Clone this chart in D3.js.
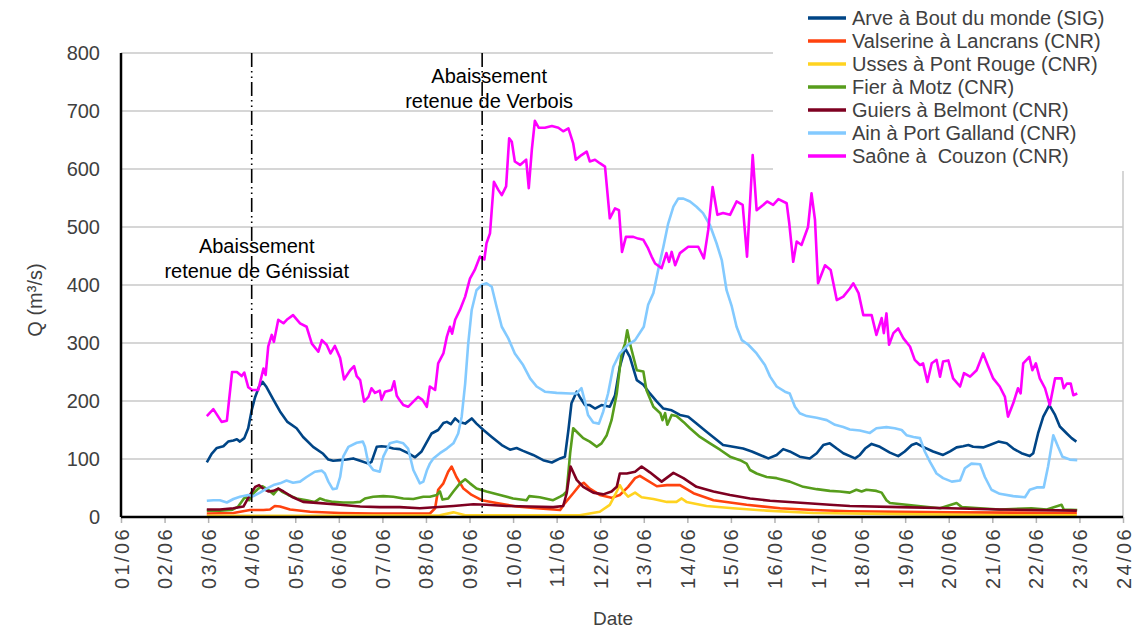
<!DOCTYPE html>
<html><head><meta charset="utf-8">
<script src="https://cdn.jsdelivr.net/npm/d3@7"></script>
<style>body{margin:0;background:#fff;}svg{display:block;font-family:"Liberation Sans",Arial,sans-serif;}</style>
</head><body><svg id="c" width="1138" height="632"></svg>
<script>
// time: days since 01/06 00:00 ; value: m3/s
const dateLabels = ["01/06","02/06","03/06","04/06","05/06","06/06","07/06","08/06","09/06","10/06","11/06","12/06","13/06","14/06","15/06","16/06","17/06","18/06","19/06","20/06","21/06","22/06","23/06","24/06"];
const yTicks = [0,100,200,300,400,500,600,700,800];
const seriesNames = ["Arve à Bout du monde (SIG)","Valserine à Lancrans (CNR)","Usses à Pont Rouge (CNR)","Fier à Motz (CNR)","Guiers à Belmont (CNR)","Ain à Port Galland (CNR)","Saône à  Couzon (CNR)"];
const seriesColors = ["#004586","#ff420e","#ffd320","#579d1c","#7e0021","#83caff","#ff00ff"];
const events = [{t:3.0, lines:["Abaissement","retenue de Génissiat"], ty:253},{t:8.29, lines:["Abaissement","retenue de Verbois"], ty:83}];

const arve = [[1.97,94],[2.08,109],[2.20,119],[2.35,122],[2.46,130],[2.58,132],[2.66,134],[2.73,130],[2.83,136],[2.92,153],[3.00,184],[3.08,207],[3.17,225],[3.25,233],[3.34,224],[3.50,202],[3.65,182],[3.82,164],[4.03,153],[4.18,138],[4.41,121],[4.64,109],[4.76,99],[4.87,97],[5.03,98],[5.18,99],[5.33,101],[5.49,97],[5.68,92],[5.75,95],[5.87,121],[5.98,122],[6.10,121],[6.25,118],[6.40,117],[6.59,110],[6.75,103],[6.90,113],[6.98,124],[7.13,144],[7.28,150],[7.40,162],[7.48,164],[7.57,160],[7.67,170],[7.76,164],[7.90,161],[8.05,170],[8.16,161],[8.32,150],[8.51,138],[8.74,124],[8.93,116],[9.08,119],[9.23,114],[9.46,107],[9.69,98],[9.89,94],[10.08,101],[10.19,104],[10.27,150],[10.34,196],[10.46,216],[10.53,207],[10.65,193],[10.76,193],[10.88,187],[11.03,193],[11.22,190],[11.34,210],[11.45,259],[11.57,291],[11.68,276],[11.84,236],[11.99,228],[12.14,213],[12.30,199],[12.45,187],[12.64,184],[12.83,176],[13.02,173],[13.21,161],[13.44,147],[13.67,133],[13.82,124],[14.05,121],[14.28,118],[14.48,113],[14.67,107],[14.86,101],[15.05,107],[15.20,117],[15.35,113],[15.58,104],[15.81,101],[15.97,110],[16.12,124],[16.27,127],[16.43,118],[16.58,110],[16.85,101],[16.96,107],[17.08,118],[17.23,126],[17.42,121],[17.65,111],[17.84,105],[17.99,113],[18.15,124],[18.26,127],[18.41,121],[18.64,113],[18.87,107],[19.03,113],[19.18,120],[19.33,122],[19.45,124],[19.56,121],[19.79,120],[19.94,124],[20.14,130],[20.33,127],[20.48,118],[20.67,110],[20.86,105],[20.94,110],[21.05,144],[21.17,173],[21.31,193],[21.44,176],[21.55,156],[21.71,144],[21.82,136],[21.93,130]];
const valserine = [[1.97,6],[2.58,7],[2.96,12],[3.27,12],[3.42,13],[3.53,19],[3.65,18],[3.88,13],[4.34,9],[5.03,7],[5.79,6],[7.09,6],[7.21,15],[7.28,47],[7.40,58],[7.51,78],[7.59,87],[7.70,69],[7.86,49],[8.05,38],[8.28,29],[8.62,24],[9.08,18],[9.54,15],[10.08,12],[10.19,24],[10.38,41],[10.53,55],[10.62,59],[10.76,49],[10.99,38],[11.26,33],[11.45,38],[11.64,52],[11.80,67],[11.91,71],[12.06,64],[12.30,53],[12.53,55],[12.83,55],[13.14,41],[13.60,29],[14.36,21],[15.13,15],[15.89,12],[16.73,10],[19.03,8],[21.94,7]];
const usses = [[1.97,2],[4.11,2],[7.32,3],[7.63,8],[7.90,3],[10.53,3],[10.99,9],[11.22,21],[11.34,38],[11.45,55],[11.53,44],[11.64,35],[11.80,42],[11.95,34],[12.22,31],[12.53,26],[12.75,26],[12.87,32],[12.98,26],[13.44,19],[14.05,15],[14.82,11],[15.89,7],[17.88,5],[20.17,3],[21.94,3]];
const fier = [[1.97,11],[2.27,11],[2.54,12],[2.69,18],[2.85,35],[2.94,29],[3.04,41],[3.15,49],[3.25,53],[3.38,47],[3.50,39],[3.61,49],[3.69,44],[3.84,38],[4.03,32],[4.26,29],[4.45,26],[4.57,32],[4.68,29],[4.87,26],[5.10,25],[5.33,25],[5.49,26],[5.60,32],[5.79,35],[6.02,36],[6.25,35],[6.48,32],[6.71,31],[6.94,35],[7.09,35],[7.25,38],[7.32,44],[7.38,30],[7.51,32],[7.63,44],[7.78,58],[7.90,65],[8.01,58],[8.16,49],[8.39,44],[8.70,38],[9.00,32],[9.31,29],[9.37,36],[9.61,34],[9.92,29],[10.08,35],[10.15,38],[10.23,44],[10.31,110],[10.38,153],[10.50,144],[10.61,136],[10.76,130],[10.92,121],[11.03,127],[11.15,141],[11.26,167],[11.38,213],[11.49,282],[11.57,299],[11.62,322],[11.68,300],[11.84,253],[11.99,251],[12.06,219],[12.22,190],[12.38,179],[12.43,167],[12.49,179],[12.54,159],[12.64,176],[12.75,174],[12.91,164],[13.06,153],[13.29,138],[13.52,127],[13.75,116],[13.98,104],[14.21,98],[14.36,92],[14.44,81],[14.59,75],[14.82,69],[15.05,67],[15.35,61],[15.66,52],[15.97,48],[16.27,45],[16.50,44],[16.73,42],[16.88,47],[17.00,44],[17.11,47],[17.34,45],[17.46,42],[17.57,29],[17.65,24],[18.03,21],[18.41,18],[18.80,15],[19.18,24],[19.30,17],[19.72,15],[20.17,13],[20.90,15],[21.25,13],[21.59,21],[21.64,13],[21.95,12]];
const guiers = [[1.97,13],[2.27,13],[2.58,15],[2.81,18],[2.96,38],[3.08,52],[3.17,55],[3.26,49],[3.38,44],[3.50,45],[3.61,49],[3.73,44],[3.92,35],[4.18,26],[4.57,24],[5.03,21],[5.49,18],[5.94,17],[6.40,17],[6.86,15],[7.63,19],[8.09,22],[8.39,21],[8.85,19],[9.39,18],[9.92,17],[10.15,19],[10.23,41],[10.32,87],[10.46,64],[10.61,52],[10.84,42],[11.07,39],[11.26,44],[11.38,52],[11.45,75],[11.61,75],[11.80,78],[11.95,87],[12.14,77],[12.41,61],[12.68,76],[12.91,67],[13.21,52],[13.60,44],[13.98,38],[14.44,32],[14.90,28],[15.51,25],[16.27,21],[16.73,19],[17.88,17],[19.03,15],[20.17,13],[21.94,11]];
const ain = [[1.97,28],[2.12,29],[2.27,29],[2.43,25],[2.58,31],[2.73,35],[2.92,38],[3.04,36],[3.19,42],[3.34,49],[3.50,55],[3.65,58],[3.80,63],[3.95,59],[4.11,61],[4.26,69],[4.45,78],[4.61,80],[4.68,75],[4.76,61],[4.86,48],[4.95,49],[5.03,69],[5.10,104],[5.22,121],[5.41,128],[5.55,130],[5.60,121],[5.68,92],[5.79,81],[5.94,78],[6.02,104],[6.17,127],[6.33,130],[6.48,127],[6.59,118],[6.71,81],[6.86,58],[6.94,61],[7.02,80],[7.09,92],[7.17,101],[7.32,110],[7.48,118],[7.63,127],[7.74,144],[7.82,173],[7.90,230],[7.97,299],[8.05,357],[8.16,391],[8.28,400],[8.39,403],[8.51,397],[8.62,363],[8.74,328],[8.89,308],[9.04,282],[9.23,262],[9.39,239],[9.54,225],[9.73,216],[10.00,214],[10.31,213],[10.46,213],[10.57,222],[10.65,199],[10.72,176],[10.84,163],[10.97,161],[11.07,182],[11.18,213],[11.30,259],[11.45,282],[11.64,297],[11.80,305],[12.00,328],[12.10,366],[12.22,386],[12.33,426],[12.45,466],[12.56,506],[12.68,535],[12.79,549],[12.91,549],[13.06,544],[13.21,535],[13.36,524],[13.52,503],[13.67,472],[13.79,443],[13.90,391],[14.02,363],[14.13,328],[14.25,305],[14.40,297],[14.59,282],[14.78,262],[14.90,242],[15.05,225],[15.24,216],[15.35,213],[15.47,190],[15.58,179],[15.74,174],[15.97,171],[16.20,167],[16.39,159],[16.58,155],[16.73,151],[16.96,149],[17.19,145],[17.34,153],[17.57,155],[17.76,153],[17.92,150],[18.03,141],[18.19,138],[18.34,136],[18.45,113],[18.57,95],[18.72,75],[18.87,67],[19.07,61],[19.26,63],[19.37,84],[19.52,92],[19.72,91],[19.83,69],[19.98,47],[20.17,40],[20.48,36],[20.75,34],[20.86,47],[21.02,51],[21.18,51],[21.28,87],[21.40,141],[21.51,121],[21.61,104],[21.78,99],[21.95,98]];
const saone = [[1.97,174],[2.12,186],[2.31,164],[2.43,166],[2.55,250],[2.66,250],[2.77,243],[2.83,249],[2.92,224],[3.01,219],[3.15,219],[3.27,256],[3.32,245],[3.38,294],[3.46,314],[3.51,302],[3.61,340],[3.73,334],[3.82,341],[3.95,348],[4.11,334],[4.26,328],[4.38,299],[4.53,285],[4.61,305],[4.72,297],[4.81,282],[4.91,295],[5.03,274],[5.12,237],[5.26,253],[5.35,260],[5.41,243],[5.49,236],[5.58,199],[5.68,207],[5.75,222],[5.83,214],[5.94,218],[5.98,202],[6.06,216],[6.21,219],[6.27,234],[6.33,209],[6.39,202],[6.48,193],[6.59,190],[6.71,199],[6.82,207],[6.92,202],[7.02,190],[7.09,225],[7.21,219],[7.28,265],[7.40,282],[7.48,311],[7.55,328],[7.60,316],[7.67,340],[7.78,357],[7.90,380],[8.01,411],[8.12,426],[8.24,449],[8.34,444],[8.39,472],[8.47,489],[8.51,529],[8.56,578],[8.66,564],[8.74,555],[8.84,570],[8.91,653],[8.97,647],[9.04,613],[9.16,607],[9.30,616],[9.36,567],[9.43,633],[9.50,683],[9.59,671],[9.73,671],[9.89,674],[10.04,671],[10.15,665],[10.27,670],[10.38,644],[10.44,616],[10.57,624],[10.69,630],[10.76,613],[10.88,616],[10.99,610],[11.11,604],[11.22,515],[11.34,532],[11.43,529],[11.50,457],[11.59,483],[11.76,483],[11.87,480],[11.99,478],[12.10,463],[12.18,449],[12.26,437],[12.41,429],[12.52,455],[12.58,440],[12.64,457],[12.72,434],[12.83,455],[13.02,466],[13.25,466],[13.38,446],[13.48,495],[13.58,569],[13.69,521],[13.82,524],[13.98,521],[14.13,544],[14.27,538],[14.37,449],[14.50,624],[14.59,529],[14.74,538],[14.83,544],[14.97,538],[15.09,548],[15.28,541],[15.34,506],[15.43,440],[15.51,475],[15.62,469],[15.77,500],[15.85,558],[15.93,512],[16.00,403],[16.16,434],[16.29,426],[16.43,374],[16.58,380],[16.73,394],[16.81,403],[16.93,386],[17.04,348],[17.23,348],[17.34,314],[17.46,343],[17.51,317],[17.57,351],[17.63,297],[17.73,317],[17.84,325],[17.96,308],[18.11,294],[18.22,271],[18.34,262],[18.41,265],[18.51,233],[18.61,265],[18.72,271],[18.80,242],[18.87,268],[18.99,270],[19.10,239],[19.26,225],[19.35,248],[19.49,242],[19.64,253],[19.79,282],[19.91,259],[20.02,239],[20.17,225],[20.29,207],[20.36,173],[20.48,196],[20.59,222],[20.65,213],[20.71,265],[20.85,276],[20.92,253],[21.00,265],[21.09,239],[21.21,222],[21.32,193],[21.44,239],[21.59,239],[21.64,222],[21.71,230],[21.80,230],[21.86,210],[21.95,213]];
const seriesData = [arve, valserine, usses, fier, guiers, ain, saone];

const svg = d3.select("#c");
const x = d3.scaleLinear().domain([0, 23]).range([121, 1123]);
const y = d3.scaleLinear().domain([0, 800]).range([517, 53]);

// gridlines
svg.append("g").selectAll("line").data(yTicks.filter(v=>v>0)).join("line")
  .attr("x1", x(0)).attr("x2", x(23)).attr("y1", d=>y(d)).attr("y2", d=>y(d))
  .attr("stroke", "#c8c8c8").attr("stroke-width", 1.5);
// right border
svg.append("line").attr("x1", x(23)).attr("x2", x(23)).attr("y1", y(800)).attr("y2", y(0))
  .attr("stroke", "#c8c8c8").attr("stroke-width", 1.5);

// x axis ticks and labels
const xAxis = d3.axisBottom(x).tickValues(d3.range(0, 24)).tickFormat(i => dateLabels[i]).tickSize(6).tickSizeOuter(0);
const gx = svg.append("g").attr("transform", `translate(0,${y(0)})`).call(xAxis);
gx.select(".domain").remove();
gx.selectAll(".tick line").attr("stroke", "#b3b3b3").attr("stroke-width", 1.5);
gx.selectAll(".tick text").attr("transform", "rotate(-90)").attr("text-anchor", "end")
  .attr("x", -10).attr("y", 0).attr("dy", "0.35em")
  .attr("font-size", 20).attr("fill", "#404040").style("letter-spacing", "2.4px")
  .attr("font-family", "Liberation Sans, Arial, sans-serif");

// y axis labels
const yAxis = d3.axisLeft(y).tickValues(yTicks).tickSize(0).tickPadding(21);
const gy = svg.append("g").attr("transform", `translate(${x(0)},0)`).call(yAxis);
gy.select(".domain").remove();
gy.selectAll(".tick text").attr("font-size", 20).attr("fill", "#404040").attr("font-family", "Liberation Sans, Arial, sans-serif");

// series
const line = d3.line().x(d => x(d[0])).y(d => y(d[1]));
seriesData.forEach((s, i) => {
  svg.append("path").datum(s).attr("d", line).attr("fill", "none")
    .attr("stroke", seriesColors[i]).attr("stroke-width", 2.6).attr("stroke-linejoin", "round");
});

// axis lines
svg.append("line").attr("x1", x(0)).attr("x2", x(23)).attr("y1", y(0)).attr("y2", y(0)).attr("stroke", "#000").attr("stroke-width", 2.5);
svg.append("line").attr("x1", x(0)).attr("x2", x(0)).attr("y1", y(800)).attr("y2", y(0)).attr("stroke", "#000").attr("stroke-width", 2.5);

// event lines & annotations
events.forEach(ev => {
  svg.append("line").attr("x1", x(ev.t)).attr("x2", x(ev.t)).attr("y1", y(800)).attr("y2", y(0))
    .attr("stroke", "#000").attr("stroke-width", 1.6).attr("stroke-dasharray", "14,4,1.5,4,1.5,4");
  const t = svg.append("text").attr("text-anchor", "middle").attr("font-size", 20).attr("fill", "#000");
  ev.lines.forEach((l, k) => t.append("tspan").attr("x", x(ev.t) + (ev.t < 5 ? 5 : 7)).attr("y", ev.ty + k * 25).text(l));
});

// legend (white box)
svg.append("rect").attr("x", 773).attr("y", 0).attr("width", 365).attr("height", 171).attr("fill", "#fff");
const lg = svg.append("g");
seriesNames.forEach((n, i) => {
  const ly = 18 + i * 23;
  lg.append("line").attr("x1", 808).attr("x2", 846).attr("y1", ly).attr("y2", ly).attr("stroke", seriesColors[i]).attr("stroke-width", 3.5);
  lg.append("text").attr("x", 852).attr("y", ly).attr("dy", "0.35em").attr("font-size", 20).attr("fill", "#404040").style("white-space", "pre").text(n);
});

// axis titles
svg.append("text").attr("transform", "translate(42,300) rotate(-90)").attr("text-anchor", "middle").attr("font-size", 20).attr("fill", "#404040").text("Q (m³/s)");
svg.append("text").attr("x", 613).attr("y", 625).attr("text-anchor", "middle").attr("font-size", 19).attr("fill", "#404040").text("Date");
</script></body></html>
